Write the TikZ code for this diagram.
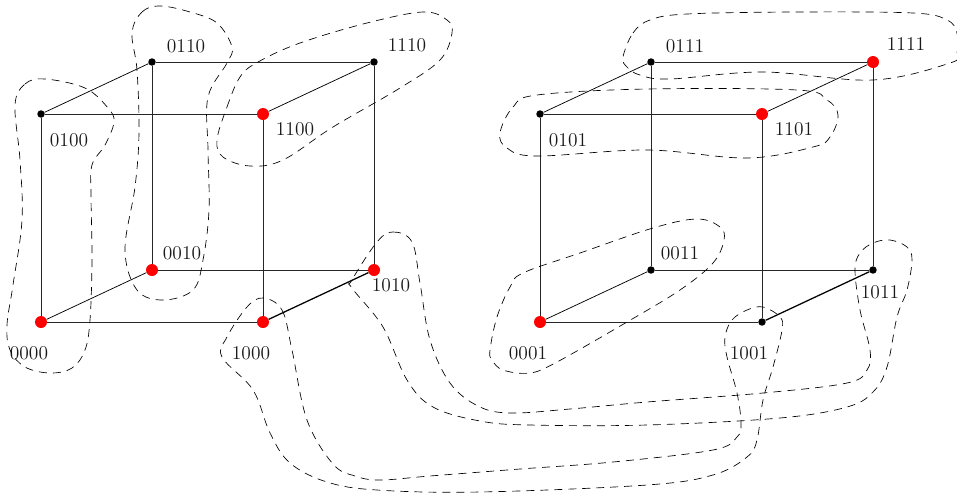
\documentclass[tikz,border=0pt]{standalone}
\tikzset{
  edge/.style={line width=0.65pt,black!85},
  heavy/.style={line width=0.95pt,black},
  redv/.style={circle,fill=red,inner sep=0pt,minimum size=9pt},
  blackv/.style={circle,fill=black,inner sep=0pt,minimum size=5.6pt},
  lab/.style={inner sep=0pt,text=black!90,font=\fontsize{14.6}{17}\selectfont},
  blob/.style={line width=0.5pt,dash pattern=on 6pt off 4.5pt,smooth cycle,tension=0.6}
}
\begin{document}
\begin{tikzpicture}[x=0.75pt,y=-0.75pt]
\clip (0,0) rectangle (957,494);
% vertices
\coordinate (p0100) at (41,114); \coordinate (p0110) at (152,62);
\coordinate (p1100) at (263,114); \coordinate (p1110) at (374,62);
\coordinate (p0000) at (41,322); \coordinate (p0010) at (152,270);
\coordinate (p1000) at (263,322); \coordinate (p1010) at (374,270);
\coordinate (p0101) at (540,114); \coordinate (p0111) at (651,62);
\coordinate (p1101) at (762,114); \coordinate (p1111) at (873,62);
\coordinate (p0001) at (540,322); \coordinate (p0011) at (651,270);
\coordinate (p1001) at (762,322); \coordinate (p1011) at (873,270);
\foreach \n in {0000,0010,1000,1010,1100,0001,1101,1111}
  \node[redv] (\n) at (p\n) {};
\foreach \n in {0100,0110,1110,0101,0111,0011,1001,1011}
  \node[blackv] (\n) at (p\n) {};
% edges
\foreach \a/\b in {0100/1100,0110/1110,0000/1000,0010/1010,0100/0000,0110/0010,1100/1000,1110/1010,
  0101/1101,0111/1111,0001/1001,0011/1011,0101/0001,0111/0011,1101/1001,1111/1011}
  \draw[edge] (\a) -- (\b);
\foreach \a/\b in {0100/0110,1100/1110,0000/0010,0101/0111,1101/1111,0001/0011}
  \draw[line width=0.55pt] (\a) -- (\b);
\draw[heavy] (1000) -- (1010);
\draw[heavy] (1001) -- (1011);
% labels
\foreach \n/\x/\y in {0110/186/46,1110/407/45,0100/69/140,1100/295/129,0010/182/253,1010/391/285,0000/29/353,1000/251/353,
  0111/685/46,1111/906/44,0101/568/140,1101/794/129,0011/680/253,1011/880/292,0001/528/353,1001/749/353}
  \node[lab] (l\n) at (\x,\y) {\n};
% groups
\draw[blob] plot coordinates {(15,105) (25,84) (45,79) (85,88) (108,108) (114,122) (105,145) (92,165) (91,195) (92,260) (90,320) (85,350) (72,368) (50,373) (25,367) (10,350) (7,325) (13,285) (22,220) (20,160)};
\draw[blob] plot coordinates {(132,33) (142,12) (160,6) (190,12) (217,23) (232,47) (227,63) (208,97) (208,150) (209,210) (203,260) (193,290) (163,300) (137,290) (125,250) (135,187) (139,133) (137,70)};
\draw[blob] plot coordinates {(217,140) (227,107) (240,77) (258,62) (300,43) (367,23) (423,12) (447,20) (452,33) (440,60) (400,88) (333,127) (283,160) (250,166) (223,157)};
\draw[blob] plot coordinates {(377,242) (393,232) (412,242) (420,283) (430,340) (450,383) (478,406) (510,413) (570,409) (647,402) (763,393) (847,383) (867,370) (870,350) (860,310) (855,270) (860,253) (873,243) (890,240) (907,247) (912,260) (907,290) (897,317) (887,367) (873,392) (847,407) (780,418) (647,425) (530,425) (480,421) (433,407) (407,380) (383,327) (352,288) (352,280)};
\draw[blob] plot coordinates {(263,298) (282,310) (292,350) (307,420) (333,464) (355,476) (380,480) (430,476) (520,469) (613,462) (713,450) (737,437) (741,423) (737,393) (727,357) (725,337) (732,320) (747,310) (763,307) (780,317) (782,330) (773,367) (763,400) (757,440) (747,457) (713,475) (647,485) (480,492) (377,490) (327,482) (290,463) (270,433) (253,390) (222,357) (227,337) (247,307)};
\draw[blob] plot coordinates {(500,133) (513,107) (537,95) (647,89) (797,90) (827,100) (838,115) (830,137) (813,147) (747,158) (647,150) (537,156) (507,148)};
\draw[blob] plot coordinates {(623,57) (633,33) (650,20) (687,14) (797,12) (913,13) (947,20) (957,33) (957,53) (950,63) (873,80) (763,72) (670,79) (640,75) (627,67)};
\draw[blob] plot coordinates {(490,350) (497,317) (510,287) (523,273) (580,253) (653,228) (697,219) (720,227) (724,240) (713,263) (680,290) (627,322) (557,362) (530,373) (503,370) (492,360)};
\end{tikzpicture}
\end{document}
